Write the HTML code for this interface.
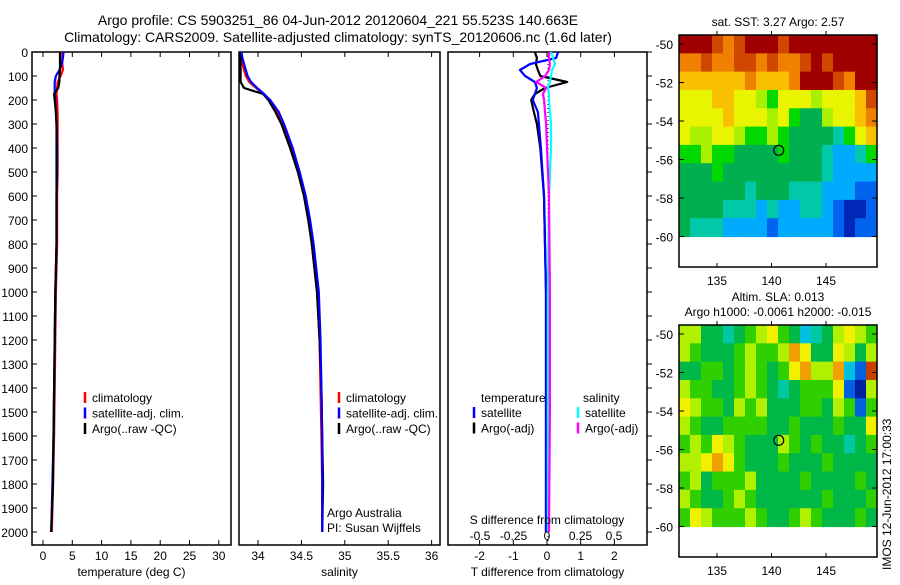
<!DOCTYPE html>
<html><head><meta charset="utf-8"><style>
body{margin:0;background:#fff;}
svg{font-family:"Liberation Sans",sans-serif;}
</style></head><body>
<svg id="c" width="900" height="580" xmlns="http://www.w3.org/2000/svg">
<text x="338" y="25" font-size="14" text-anchor="middle">Argo profile: CS 5903251_86 04-Jun-2012 20120604_221 55.523S 140.663E</text>
<text x="338" y="42" font-size="14" text-anchor="middle">Climatology: CARS2009. Satellite-adjusted climatology: synTS_20120606.nc (1.6d later)</text>
</svg>
<script>
const depths=[0,25,50,75,100,125,150,175,200,250,300,400,500,600,700,800,900,1000,1200,1400,1600,1800,2000];
const tClim=[3.3,3.3,3.3,3.4,3.0,2.5,2.4,2.3,2.4,2.5,2.5,2.5,2.5,2.4,2.4,2.4,2.3,2.2,2.1,2.0,1.9,1.7,1.5];
const tSat=[3.5,3.4,3.2,2.8,2.2,2.0,2.0,2.0,2.1,2.2,2.3,2.4,2.4,2.3,2.3,2.3,2.2,2.1,2.0,1.9,1.8,1.6,1.4];
const tArgo=[2.9,2.9,2.9,2.9,2.8,2.8,2.6,1.9,2.0,2.2,2.3,2.3,2.3,2.3,2.3,2.3,2.2,2.1,2.0,1.9,1.8,1.7,1.4];
const sClim=[33.8,33.8,33.82,33.84,33.86,33.9,33.98,34.06,34.13,34.22,34.28,34.38,34.46,34.53,34.58,34.62,34.65,34.68,34.71,34.72,34.73,34.74,34.74];
const sSat=[33.81,33.82,33.84,33.86,33.88,33.92,33.99,34.07,34.14,34.24,34.3,34.4,34.48,34.55,34.6,34.64,34.67,34.7,34.72,34.73,34.74,34.74,34.74];
const sArgo=[33.8,33.8,33.8,33.8,33.8,33.8,33.84,34.06,34.12,34.2,34.27,34.37,34.46,34.53,34.58,34.62,34.65,34.68,34.71,34.73,34.74,34.75,34.74];
const dDepths=[0,25,50,75,100,125,150,175,200,250,300,400,600,1000,1500,2000];
const dTsat=[0.33,0.27,-0.5,-0.8,-0.65,-0.36,-0.3,-0.36,-0.42,-0.27,-0.24,-0.18,-0.09,-0.03,-0.03,-0.03];
const dTargo=[-0.36,-0.3,-0.33,-0.27,-0.2,0.6,-0.06,-0.36,-0.47,-0.39,-0.3,-0.2,-0.09,-0.03,-0.03,-0.03];
const dSsat=[0.03,0.045,0.06,0.037,0.03,0.022,0.007,0.015,0.015,0.022,0.03,0.03,0.015,0.007,0.007,0.007];
const dSargo=[0.015,0.015,0.022,0.015,-0.015,-0.08,-0.007,-0.03,-0.022,-0.015,-0.007,0,0.015,0.022,0.022,0.015];
const depthTicks=[0,100,200,300,400,500,600,700,800,900,1000,1100,1200,1300,1400,1500,1600,1700,1800,1900,2000];
const tTicks=[0,5,10,15,20,25,30];
const sTicks=[34,34.5,35,35.5,36];
const sTickLabels=['34','34.5','35','35.5','36'];
const dTTicks=[-2,-1,0,1,2];
const dSTicks=[-0.5,-0.25,0,0.25,0.5];
const lonTicks=[135,140,145];
const latTicks=[-50,-52,-54,-56,-58,-60];
const sstGrid=[
[11,11,11,10,9,10,11,11,11,10,11,11,11,11,11,11,11,11],
[9,9,10,9,9,10,10,9,10,9,9,10,11,10,11,11,11,11],
[8,8,8,8,8,8,9,8,8,8,9,11,11,11,10,9,11,11],
[7,7,7,8,8,7,7,6,5,7,7,7,6,7,7,7,8,10],
[7,7,7,7,8,7,7,7,6,7,5,4,4,6,7,7,8,9],
[7,6,6,7,7,6,5,5,6,5,4,4,4,4,3,5,7,8],
[5,5,6,5,5,4,4,4,4,5,4,4,4,3,2,2,3,5],
[4,4,4,5,4,4,4,4,4,4,4,4,4,3,2,2,2,2],
[4,4,4,4,4,4,3,4,4,4,3,3,3,2,2,2,1,1],
[4,4,4,4,3,3,3,2,3,2,2,3,3,2,1,0,0,1],
[4,3,3,3,2,2,2,2,1,2,2,2,2,2,1,0,1,1]];
const slaGrid=[
[6,6,4,4,3,4,5,6,7,5,4,2,3,4,6,7,6,5],
[6,5,4,4,4,5,6,5,5,6,8,7,4,4,7,6,4,6],
[4,4,5,5,4,5,6,5,4,5,7,8,6,6,8,2,1,9],
[6,5,5,4,4,5,6,5,4,3,4,5,5,5,7,1,0,6],
[7,6,5,5,4,6,5,6,4,4,4,5,5,4,6,5,1,5],
[6,5,4,4,5,5,5,5,4,4,5,4,4,4,5,4,4,7],
[5,6,5,7,6,5,4,4,4,6,5,4,5,4,4,3,4,5],
[6,6,7,8,7,5,4,4,4,5,4,4,4,5,4,4,4,4],
[5,6,4,5,5,5,6,4,4,4,4,5,4,4,4,4,5,4],
[6,5,4,4,5,6,5,4,4,4,4,4,4,5,4,4,4,5],
[5,7,6,5,5,5,6,5,4,4,5,6,5,4,4,4,5,4]];
const sstColors=['#0028b8','#0064f0','#00aaff','#00c8a8','#00b050','#00d800','#a8f000','#e8f400','#f8c000','#f08000','#d04800','#a00000'];
const slaColors=['#0020a0','#0060e0','#00c0e0','#00c8a0','#00b848','#30d000','#b0f000','#f0f000','#f0a000','#c84000'];
const argoLon=140.663, argoLat=-55.523;

const svg=document.getElementById('c');
const NS='http://www.w3.org/2000/svg';
function mk(tag,attrs,parent){const e=document.createElementNS(NS,tag);for(const k in attrs)e.setAttribute(k,attrs[k]);(parent||svg).appendChild(e);return e;}
function txt(x,y,s,size,anchor,parent){const t=mk('text',{x:x,y:y,'font-size':size,'text-anchor':anchor||'middle'},parent);t.textContent=s;return t;}

const Y0=52, PB=545;
const yD=d=>Y0+d*0.24;

function panel(name,x0,x1){
  const g=mk('g',{});
  
  
  const r=mk('rect',{x:x0,y:Y0,width:x1-x0,height:PB-Y0,fill:'#fff',stroke:'#000','stroke-width':1.5},g);
  
  
  return g;
}
function line(g,xs,ds,xf,color,name,w){
  let pts=[];
  for(let i=0;i<xs.length;i++){
    pts.push(xf(xs[i]).toFixed(1)+','+yD(ds[i]).toFixed(1));
  }
  const p=mk('polyline',{points:pts.join(' '),fill:'none',stroke:color,'stroke-width':w||2.2,'stroke-linejoin':'round'},g);
  
  
}
function xAxis(g,ticks,labels,xf,title,tickTop){
  ticks.forEach((t,i)=>{
    const x=xf(t);
    mk('line',{x1:x,x2:x,y1:PB,y2:PB-5,stroke:'#000'},g);
    if(tickTop)mk('line',{x1:x,x2:x,y1:Y0,y2:Y0+5,stroke:'#000'},g);
    const l=txt(x,560,labels[i],12,'middle',g);
    
    
  });
  const tt=txt(0,0,title,12,'middle',g);
  tt.setAttribute('x',(g.__x0+g.__x1)/2);tt.setAttribute('y',576);
  
  
}
function legend(g,x,y,items){
  items.forEach((it,i)=>{
    mk('line',{x1:x,x2:x,y1:y+i*15.5-10,y2:y+i*15.5+1,stroke:it[1],'stroke-width':2.5},g);
    const t=txt(x+7,y+i*15.5,it[0],12,'start',g);
    
    
  });
}

// Panel 1 temperature
const xT=v=>43+v*5.86;
let g1=panel('temperature-panel',32,231);g1.__x0=32;g1.__x1=231;
depthTicks.forEach(d=>{
  mk('line',{x1:32,x2:37,y1:yD(d),y2:yD(d),stroke:'#000'},g1);
  const l=txt(28,yD(d)+5,String(d),12,'end',g1);
  
  
});
line(g1,tClim,depths,xT,'#ff0000','temp-climatology-line');
line(g1,tSat,depths,xT,'#0000ff','temp-satellite-line');
line(g1,tArgo,depths,xT,'#000000','temp-argo-line');
xAxis(g1,tTicks,tTicks.map(String),xT,'temperature (deg C)',true);
legend(g1,85,402,[['climatology','#ff0000'],['satellite-adj. clim.','#0000ff'],['Argo(..raw -QC)','#000000']]);

// Panel 2 salinity
const xS=v=>258+(v-34)*86.8;
let g2=panel('salinity-panel',239,440);g2.__x0=239;g2.__x1=440;
line(g2,sClim,depths,xS,'#ff0000','sal-climatology-line');
line(g2,sArgo,depths,xS,'#000000','sal-argo-line');
line(g2,sSat,depths,xS,'#0000ff','sal-satellite-line');
xAxis(g2,sTicks,sTickLabels,xS,'salinity',true);
legend(g2,339,402,[['climatology','#ff0000'],['satellite-adj. clim.','#0000ff'],['Argo(..raw -QC)','#000000']]);
let a1=txt(327,517,'Argo Australia',12,'start',g2);
let a2=txt(327,532,'PI: Susan Wijffels',12,'start',g2);

// Panel 3 differences
const xDT=v=>547+v*33.7, xDS=v=>547+v*134;
let g3=panel('difference-panel',448,647);g3.__x0=448;g3.__x1=647;
depthTicks.forEach(d=>{mk('line',{x1:647,x2:652,y1:yD(d),y2:yD(d),stroke:'#000'},g3);});
mk('line',{x1:548,x2:548,y1:Y0,y2:PB,stroke:'#000','stroke-dasharray':'1,3'},g3);
line(g3,dTargo,dDepths,xDT,'#000000','dT-argo-line');
line(g3,dTsat,dDepths,xDT,'#0000ff','dT-satellite-line');
line(g3,dSsat,dDepths,xDS,'#00ffff','dS-satellite-line');
line(g3,dSargo,dDepths,xDS,'#ff00ff','dS-argo-line');
xAxis(g3,dTTicks,dTTicks.map(String),xDT,'T difference from climatology',true);
let st=txt(547,524,'S difference from climatology',12,'middle',g3);
dSTicks.forEach(t=>{const l=txt(xDS(t),540,String(t),12,'middle',g3);});
txt(481,402,'temperature',12,'start',g3);
txt(583,402,'salinity',12,'start',g3);
legend(g3,474,417,[['satellite','#0000ff'],['Argo(-adj)','#000000']]);
legend(g3,578,417,[['satellite','#00ffff'],['Argo(-adj)','#ff00ff']]);

// Maps
function map(name,top,grid,colors,titles){
  const L=679,R=877,B=top+232;
  const lonX=v=>717+(v-135)*10.9;
  const latY=v=>top+9+(-50-v)*19.25;
  const g=mk('g',{});
  
  
  const rows=grid.length, cols=grid[0].length;
  const dTop=top, dBot=latY(-60), cw=(R-L)/cols, ch=(dBot-dTop)/rows;
  grid.forEach((row,i)=>row.forEach((v,j)=>{
    const c=mk('rect',{x:L+j*cw,y:dTop+i*ch,width:cw+0.6,height:ch+0.6,fill:colors[v]},g);
    
    
  }));
  mk('rect',{x:L,y:top,width:R-L,height:B-top,fill:'none',stroke:'#000','stroke-width':1.5},g);
  latTicks.forEach(t=>{const y=latY(t);
    mk('line',{x1:L,x2:L+5,y1:y,y2:y,stroke:'#000'},g);mk('line',{x1:R,x2:R-5,y1:y,y2:y,stroke:'#000'},g);
    const l=txt(673,y+5,String(t),12,'end',g);});
  lonTicks.forEach(t=>{const x=lonX(t);
    mk('line',{x1:x,x2:x,y1:top,y2:top-4,stroke:'#000'},g);mk('line',{x1:x,x2:x,y1:B,y2:B-4,stroke:'#000'},g);
    const l=txt(x,B+18,String(t),12,'middle',g);});
  const c=mk('circle',{cx:lonX(argoLon),cy:latY(argoLat),r:5,fill:'none',stroke:'#000','stroke-width':1.2},g);
  
  
  const n=titles.length;
  titles.forEach((s,i)=>{const t=txt(778,top-9-(n-1-i)*15,s,12,'middle',g);});
}
map('sst-map',35,sstGrid,sstColors,['sat. SST: 3.27 Argo: 2.57']);
map('sla-map',325,slaGrid,slaColors,['Altim. SLA: 0.013','Argo h1000: -0.0061 h2000: -0.015']);
const ts=txt(0,0,'IMOS 12-Jun-2012 17:00:33',12,'start');
ts.setAttribute('transform','translate(891,570) rotate(-90)');


</script>
</body></html>
